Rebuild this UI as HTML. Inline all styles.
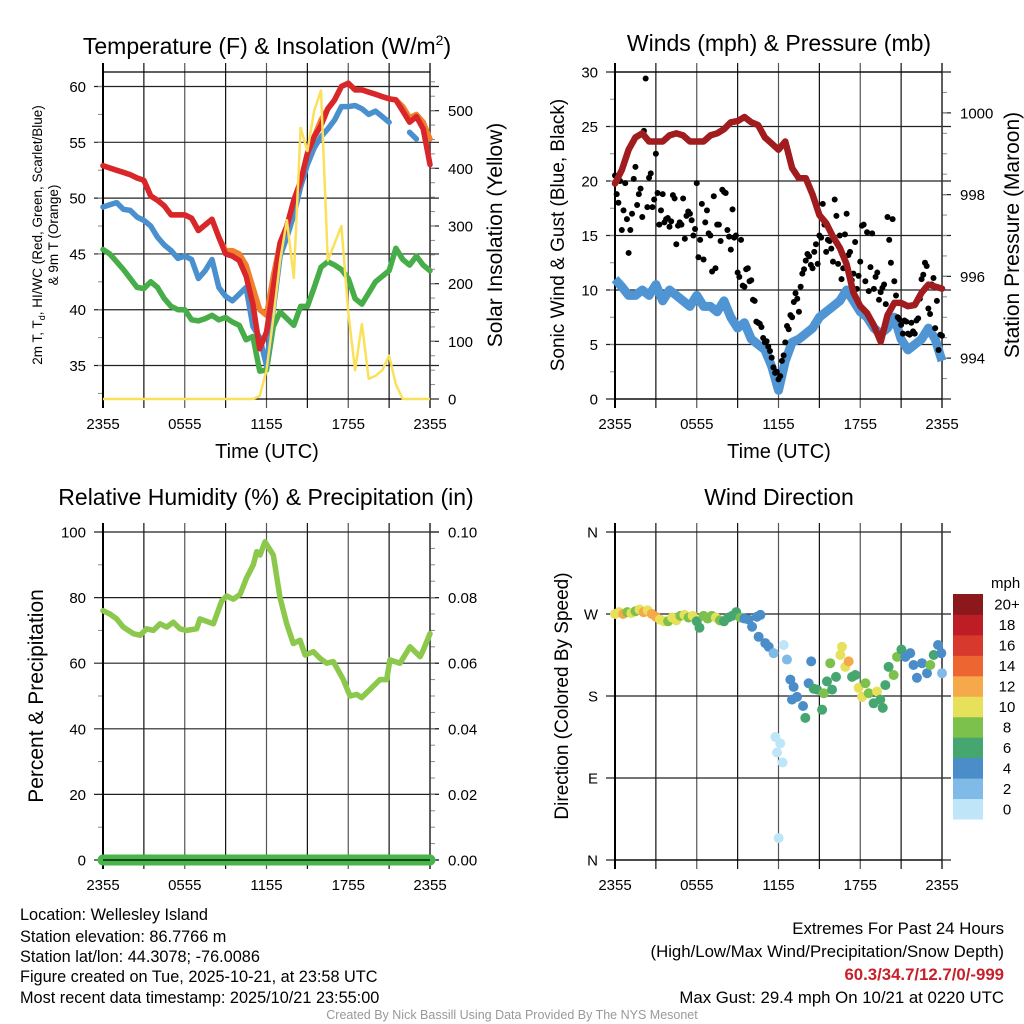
<!DOCTYPE html>
<html><head><meta charset="utf-8">
<style>
html,body{margin:0;padding:0;background:#fff;}
svg{display:block;font-family:"Liberation Sans",sans-serif;}
.info{font-family:"Liberation Sans",sans-serif;font-size:16.3px;}
.info2{font-family:"Liberation Sans",sans-serif;font-size:16.8px;}
</style></head>
<body>
<svg id="fig" width="1024" height="1024" viewBox="0 0 1024 1024" xmlns="http://www.w3.org/2000/svg">
<text x="267" y="54" font-size="23" text-anchor="middle">Temperature (F) &amp; Insolation (W/m<tspan font-size="14" dy="-9">2</tspan><tspan dy="9">)</tspan></text>
<text x="779" y="51" font-size="23" text-anchor="middle">Winds (mph) &amp; Pressure (mb)</text>
<text x="266" y="505" font-size="23" text-anchor="middle">Relative Humidity (%) &amp; Precipitation (in)</text>
<text x="779" y="505" font-size="23" text-anchor="middle">Wind Direction</text>

<text transform="translate(42,235) rotate(-90)" font-size="13.5" text-anchor="middle">2m T, T<tspan font-size="9" dy="3">d</tspan><tspan dy="-3">, HI/WC (Red, Green, Scarlet/Blue)</tspan></text>
<text transform="translate(58,235) rotate(-90)" font-size="13.5" text-anchor="middle">&amp; 9m T (Orange)</text>
<text transform="translate(502,235) rotate(-90)" font-size="21" text-anchor="middle">Solar Insolation (Yellow)</text>
<text transform="translate(564,235) rotate(-90)" font-size="19" text-anchor="middle">Sonic Wind &amp; Gust (Blue, Black)</text>
<text transform="translate(1019,235) rotate(-90)" font-size="21" text-anchor="middle">Station Pressure (Maroon)</text>
<text transform="translate(43,696) rotate(-90)" font-size="21" text-anchor="middle">Percent &amp; Precipitation</text>
<text transform="translate(568,696) rotate(-90)" font-size="19" text-anchor="middle">Direction (Colored By Speed)</text>
<text x="267" y="458" font-size="20" text-anchor="middle">Time (UTC)</text>
<text x="779" y="458" font-size="20" text-anchor="middle">Time (UTC)</text>

<g class="info">
<text x="20" y="920">Location: Wellesley Island</text>
<text x="20" y="942">Station elevation: 86.7766 m</text>
<text x="20" y="962">Station lat/lon: 44.3078; -76.0086</text>
<text x="20" y="982">Figure created on Tue, 2025-10-21, at 23:58 UTC</text>
<text x="20" y="1003">Most recent data timestamp: 2025/10/21 23:55:00</text>
</g>
<g class="info2" text-anchor="end">
<text x="1004" y="934">Extremes For Past 24 Hours</text>
<text x="1004" y="957">(High/Low/Max Wind/Precipitation/Snow Depth)</text>
<text x="1004" y="980" fill="#c8202a" font-weight="bold">60.3/34.7/12.7/0/-999</text>
<text x="1004" y="1003">Max Gust: 29.4 mph On 10/21 at 0220 UTC</text>
</g>
<text x="512" y="1019" font-size="12.5" fill="#999" text-anchor="middle">Created By Nick Bassill Using Data Provided By The NYS Mesonet</text>
</svg>
<script>
// ---------- DATA ----------
const timeLabels = ["2355","0555","1155","1755","2355"];
const halfHours = [0,0.5,1,1.5,2,2.5,3,3.5,4,4.5,5,5.5,6,6.5,7,7.5,8,8.5,9,9.5,10,10.5,11,11.5,12,12.5,13,13.5,14,14.5,15,15.5,16,16.5,17,17.5,18,18.5,19,19.5,20,20.5,21,21.5,22,22.5,23,23.5,24];
const temp2m = [52.9,52.7,52.5,52.3,52.1,51.8,51.6,50.2,49.8,49.3,48.5,48.5,48.5,48.2,47.1,47.6,48.1,46.5,45.0,44.8,44.4,43.0,40.5,36.5,38.0,42.0,46.0,47.5,49.8,51.5,54.0,55.5,56.5,58.0,58.8,60.0,60.3,59.7,59.7,59.5,59.3,59.1,58.9,58.8,57.8,56.8,57.3,56.2,53.0];
const temp9m = [52.9,52.7,52.5,52.3,52.1,51.8,51.6,50.2,49.8,49.3,48.5,48.5,48.5,48.2,47.1,47.6,48.1,46.5,45.3,45.3,45.0,44.0,42.0,40.0,39.5,43.0,46.0,47.5,49.8,51.5,54.0,55.5,57.0,58.0,58.8,60.0,60.3,59.7,59.7,59.5,59.3,59.1,58.9,58.8,58.2,57.2,57.5,56.8,55.3];
const windChill = [49.2,49.4,49.6,49.0,48.9,48.3,48.0,47.5,46.5,45.8,45.3,44.6,44.8,44.5,42.8,43.5,44.5,42.0,41.2,40.8,41.4,42.0,38.5,37.5,35.0,40.0,44.8,46.5,48.5,51.0,53.0,54.5,55.5,56.2,57.0,58.2,58.2,58.3,58.0,57.5,57.8,57.3,56.8,null,null,55.9,55.3,null,null];
const dewPoint = [45.4,45.0,44.3,43.6,42.8,42.0,41.9,42.5,42.0,41.0,40.3,40.0,40.0,39.1,39.0,39.2,39.5,39.1,39.3,38.9,38.6,37.3,37.6,34.5,34.6,38.5,39.8,39.2,38.6,40.3,40.3,42.0,43.8,44.3,44.0,43.6,42.8,41.0,40.5,41.5,42.5,43.0,43.5,45.5,44.5,44.0,44.8,44.0,43.5];
const insolation = [0,0,0,0,0,0,0,0,0,0,0,0,0,0,0,0,0,0,0,0,0,0,0,5,50,140,240,310,210,470,430,500,535,240,270,300,150,50,130,35,40,50,75,25,0,0,0,0,0];
const windSpeed = [11,10.3,9.5,9.5,10,9.5,10.5,9,10,9.5,9,8.5,9.5,8.5,8.5,8,9,7.5,6.5,7,5.5,5,4.5,3,0.8,3.5,5.2,5.5,6,6.5,7.5,8,8.5,9,10,9,8,7.5,6.5,6,6.5,7.5,5.5,4.5,5,5.5,6.5,5.5,3.5];
const pressure = [998.27,998.6,999.1,999.4,999.5,999.3,999.3,999.3,999.45,999.5,999.45,999.3,999.3,999.3,999.45,999.5,999.6,999.77,999.8,999.9,999.77,999.7,999.4,999.25,999.1,999.3,998.65,998.4,998.4,998.0,997.5,997.3,996.97,996.7,996.3,995.6,995.27,995.1,994.8,994.4,995.05,995.35,995.35,995.27,995.3,995.6,995.8,995.75,995.7];
const gustA = [20.5,18.0,15.5,19.8,13.4,17.0,21.3,18.8,16.7,29.4,20.3,17.6,22.5,16.0,18.8,16.5,15.8,18.7,14.2,16.2,18.4,16.8,17.0,15.0,19.8,14.6,12.8,17.3,15.0,18.6,16.0,14.5,19.0,15.5,13.7,14.8,11.6,14.6,10.3,12.0,10.9,9.0,7.0,6.6,5.2,4.8,3.8,2.4,1.8,3.5,5.2,6.4,7.5,9.7,8.0,11.5,12.7,13.1,12.0,14.2,15.0,17.9,13.5,14.5,12.6,16.8,15.0,12.0,17.0,13.5,11.5,10.1,12.6,16.0,15.3,12.1,10.1,11.6,9.8,10.5,16.7,12.5,10.8,7.5,6.8,7.2,6.0,7.0,6.0,7.4,11.0,12.5,8.3,10.5,6.5,4.5,5.8];
const gustB = [18.8,20.0,17.3,16.5,15.5,20.2,17.8,19.3,24.6,17.6,20.7,18.3,18.9,17.3,16.2,16.6,16.3,18.4,15.9,16.0,14.7,17.2,16.4,15.6,13.0,17.9,16.2,15.2,11.7,12.0,16.0,19.2,18.9,14.9,17.4,15.0,11.2,10.4,11.9,10.8,9.1,7.1,6.9,5.6,5.3,4.4,2.9,2.5,2.1,4.0,6.7,7.7,8.9,9.2,10.3,11.9,13.3,12.3,13.5,12.4,14.8,16.0,14.6,13.8,18.3,12.4,11.0,15.1,13.2,10.9,14.4,11.3,15.9,10.8,9.9,15.2,11.2,9.1,10.2,8.7,14.6,16.5,9.5,7.3,6.0,7.1,5.9,6.2,7.2,9.2,11.4,12.2,7.8,11.1,9.0,5.9];
const rhTime = [0,0.51,1.0,1.49,2.23,2.72,3.2,3.69,4.18,4.67,5.16,5.65,6.14,6.87,7.12,8.1,8.71,9.08,9.57,10.06,10.54,11.03,11.28,11.52,11.89,12.5,12.99,13.48,13.97,14.46,14.83,15.44,15.93,16.42,16.9,17.64,18.13,18.62,18.98,19.6,20.33,20.82,21.06,21.8,22.53,23.27,23.51,24];
const rhVal = [76,75,73.5,71,69,68.5,70.5,70,72,71,72.5,70.5,70,70.5,73.5,72,79,80.5,79.5,81,86,90,94,93,97,93,80,72,66,67,62.5,63.5,61.5,60,60.5,55,50,50.5,49.5,52,55,55,61,60,65,62,64,69];
const precipTime = [0,24];
const precipVal = [0,0];
const dirTime = [0,0.3,0.6,0.9,1.2,1.5,1.8,2.1,2.4,2.7,3.0,3.3,3.6,3.9,4.2,4.5,4.8,5.1,5.4,5.7,6.0,6.2,6.5,6.8,7.1,7.4,7.7,8.0,8.3,8.6,8.9,9.2,9.5,9.8,10.06,10.42,10.67,10.54,11.03,11.28,11.64,12.38,12.62,11.77,12.13,11.89,12.3,12.01,12.87,13.11,12.99,13.36,13.8,13.97,14.21,14.4,14.58,14.83,15.2,15.32,15.56,15.8,15.93,16.22,16.54,16.66,16.9,17.15,17.4,17.64,17.88,18.13,18.38,18.62,18.98,19.23,19.47,19.65,19.84,20.08,20.45,20.7,21.02,21.31,21.67,21.91,22.16,22.53,22.9,23.14,23.39,23.71,24,23.95];
const dirDeg = [270,272,270,272,271,273,275,272,274,270,267,264,262,262,266,263,268,269,266,268,262,255,268,265,268,266,263,262,266,268,272,266,265,264,256,267,269,245,238,234,227,236,220,135,128,118,107,24,198,190,176,179,169,156,194,218,188,187,165,183,196,216,187,201,225,234,212,218,201,203,189,179,194,183,172,185,176,167,192,212,203,223,231,223,227,214,200,216,205,214,225,236,205,227];
const dirSpeed = [11,10,12,9,10,8,10,13,11,12,13,10,10,9,10,10,9,10,8,10,7,7,9,8,8,10,9,7,6,7,6,8,4,4,4,4,4,4,4,4,2,1,2,1,1,1,1,1,4,4,4,5,5,6,5,4,6,6,7,8,6,8,6,7,10,10,10,13,7,7,10,10,8,8,6,10,6,6,6,6,8,8,7,4,4,4,4,4,4,8,6,4,2,4];
const speedBinColors = ["#bfe5f8","#7fbbe6","#4a8dc9","#46a670","#7cc14b","#e6e05a","#f5a94a","#ed6530","#d73a2c","#bd1d25","#8c181b"];
const speedBinLabels = ["0","2","4","6","8","10","12","14","16","18","20+"];

// ---------- HELPERS ----------
const NS = "http://www.w3.org/2000/svg";
const svg = document.getElementById("fig");
function mk(tag, attrs, parent) {
  const e = document.createElementNS(NS, tag);
  for (const k in attrs) e.setAttribute(k, attrs[k]);
  (parent || svg).appendChild(e);
  return e;
}
function xAxis(x0, x1) { return h => x0 + h / 24 * (x1 - x0); }
function yAxis(vmin, vmax, yb, yt) { return v => yb - (v - vmin) / (vmax - vmin) * (yb - yt); }
function linePath(ts, vs, xs, ys) {
  let d = "", pen = false;
  for (let i = 0; i < ts.length; i++) {
    if (vs[i] === null) { pen = false; continue; }
    d += (pen ? "L" : "M") + xs(ts[i]).toFixed(1) + " " + ys(vs[i]).toFixed(1);
    pen = true;
  }
  return d;
}

function frame(name, x0, x1, yt, yb, leftTicks, leftFmt, leftMinor, yL, rightTicks, rightFmt, rightMinor, yR, topLine) {
  const g = mk("g", {});
  
  
  const xs = xAxis(x0, x1);
  for (let h = 0; h <= 24; h += 3) {
    const l = mk("line", {x1: xs(h), x2: xs(h), y1: yt - 9, y2: yb + 9, stroke: (h % 6 === 0) ? "#555" : "#111", "stroke-width": 1.2}, g);
    
    
  }
  leftTicks.forEach(v => {
    const y = yL(v);
    const l = mk("line", {x1: x0 - 9, x2: x1 + 9, y1: y, y2: y, stroke: "#222", "stroke-width": 1.2}, g);
    
    
    const t = mk("text", {x: x0 - 17, y: y + 5.5, "font-size": 15, "text-anchor": "end"}, g);
    t.textContent = leftFmt(v);
    
    
  });
  leftMinor.forEach(v => {
    const y = yL(v);
    const l = mk("line", {x1: x0 - 5, x2: x0, y1: y, y2: y, stroke: "#888", "stroke-width": 1}, g);
    
    
  });
  if (yR) {
    rightTicks.forEach(v => {
      const y = yR(v);
      const l = mk("line", {x1: x1, x2: x1 + 9, y1: y, y2: y, stroke: "#222", "stroke-width": 1.2}, g);
      
      
      const t = mk("text", {x: x1 + 18, y: y + 5.5, "font-size": 15}, g);
      t.textContent = rightFmt(v);
      
      
    });
    rightMinor.forEach(v => {
      const y = yR(v);
      const l = mk("line", {x1: x1, x2: x1 + 5, y1: y, y2: y, stroke: "#888", "stroke-width": 1}, g);
      
      
    });
  }
  const lf = mk("line", {x1: x0, x2: x0, y1: yt - 9, y2: yb + 9, stroke: "#000", "stroke-width": 2}, g);
  
  
  const rf = mk("line", {x1: x1, x2: x1, y1: yt - 9, y2: yb + 9, stroke: "#333", "stroke-width": 1.5}, g);
  
  
  const bf = mk("line", {x1: x0, x2: x1, y1: yb, y2: yb, stroke: "#000", "stroke-width": 1.3}, g);
  
  
  if (topLine) {
    const tf = mk("line", {x1: x0, x2: x1, y1: yt, y2: yt, stroke: "#000", "stroke-width": 1.3}, g);
    
    
  }
  timeLabels.forEach((s, i) => {
    const t = mk("text", {x: xs(i * 6), y: yb + 30, "font-size": 15, "text-anchor": "middle"}, g);
    t.textContent = s;
    
    
  });
  return xs;
}
function range(a, b, s) { const r = []; for (let v = a; v <= b + 1e-9; v += s) r.push(+v.toFixed(4)); return r; }

// ---------- PANEL 1 ----------
{
  const yT = yAxis(32, 61.3, 399, 72);
  const yI = yAxis(0, 567, 399, 72);
  const xs = frame("temperature", 103, 430, 72, 399, [35,40,45,50,55,60], v => v, range(32.5, 60, 2.5), yT, [0,100,200,300,400,500], v => v, range(25, 550, 25), yI, true);
  const g = mk("g", {});
  
  
  const defs = [
    [dewPoint, "#46ad48", "dewpoint-line", 5.5],
    [temp9m, "#f07f2e", "temp-9m-line", 5.5],
    [windChill, "#4a90cf", "wind-chill-line", 5.5],
    [temp2m, "#d9262a", "temp-2m-line", 5.5]
  ];
  defs.forEach(([vals, col, nm, w]) => {
    const p = mk("path", {d: linePath(halfHours, vals, xs, yT), fill: "none", stroke: col, "stroke-width": w, "stroke-linejoin": "round", "stroke-linecap": "round"}, g);
    
    
  });
  const p = mk("path", {d: linePath(halfHours, insolation, xs, yI), fill: "none", stroke: "#fbe15a", "stroke-width": 2.5, "stroke-linejoin": "round"}, g);
  
  
}

// ---------- PANEL 2 ----------
{
  const yS = yAxis(0, 30, 399, 72);
  const yP = yAxis(993, 1001, 399, 72);
  const xs = frame("winds", 615, 942, 72, 399, [0,5,10,15,20,25,30], v => v, range(2.5, 27.5, 2.5), yS, [994,996,998,1000], v => v, range(993.5, 1000.5, 0.5), yP, true);
  const g = mk("g", {});
  
  
  const w = mk("path", {d: linePath(halfHours, windSpeed, xs, yS), fill: "none", stroke: "#4f95d3", "stroke-width": 9, "stroke-linejoin": "round"}, g);
  
  
  [[gustA, 0], [gustB, 0.125]].forEach(([arr, off]) => {
    arr.forEach((v, i) => {
      const c = mk("circle", {cx: xs(Math.min(24, i * 0.25 + off)), cy: yS(v), r: 3, fill: "#000"}, g);
      
      
    });
  });
  const p = mk("path", {d: linePath(halfHours, pressure, xs, yP), fill: "none", stroke: "#a01c1f", "stroke-width": 6.5, "stroke-linejoin": "round", "stroke-linecap": "round"}, g);
  
  
}

// ---------- PANEL 3 ----------
{
  const yH = yAxis(0, 100, 860, 532);
  const yR = yAxis(0, 0.1, 860, 532);
  const xs = frame("humidity", 103, 430, 532, 860, [0,20,40,60,80,100], v => v, range(10, 90, 20), yH, [0,0.02,0.04,0.06,0.08,0.10], v => v.toFixed(2), range(0.005, 0.095, 0.005), yR, false);
  const g = mk("g", {});
  
  
  const p = mk("path", {d: linePath(rhTime, rhVal, xs, yH), fill: "none", stroke: "#8cc84b", "stroke-width": 5.5, "stroke-linejoin": "round", "stroke-linecap": "round"}, g);
  
  
  const q = mk("path", {d: linePath(precipTime, precipVal, xs, yR), fill: "none", stroke: "#47b54a", "stroke-width": 11, "stroke-linecap": "round"}, g);
  
  
  const bl = mk("line", {x1: 103, x2: 430, y1: 860, y2: 860, stroke: "#000", "stroke-width": 1.2}, g);
  
  
}

// ---------- PANEL 4 ----------
{
  const yD = yAxis(0, 360, 860, 532);
  const dirNames = {0: "N", 90: "E", 180: "S", 270: "W", 360: "N"};
  const xs = frame("wind-direction", 615, 942, 532, 860, [0,90,180,270,360], v => dirNames[v], [], yD, null, null, null, null, false);
  const g = mk("g", {});
  
  
  dirTime.forEach((h, i) => {
    const bin = Math.min(10, Math.floor(dirSpeed[i] / 2));
    const c = mk("circle", {cx: xs(h), cy: yD(dirDeg[i]), r: 5, fill: speedBinColors[bin]}, g);
    
    
  });
  const cb = mk("g", {});
  
  
  const top = 594, bot = 819, bh = (bot - top) / 11;
  speedBinColors.forEach((col, i) => {
    const y = bot - (i + 1) * bh;
    const r = mk("rect", {x: 953, y: y, width: 30, height: bh + 0.5, fill: col}, cb);
    
    
    const t = mk("text", {x: 1007, y: y + bh / 2 + 5.5, "font-size": 15, "text-anchor": "middle"}, cb);
    t.textContent = speedBinLabels[i];
    
    
  });
  const u = mk("text", {x: 991, y: 588, "font-size": 15}, cb);
  u.textContent = "mph";
  
  
}
</script>
</body></html>
